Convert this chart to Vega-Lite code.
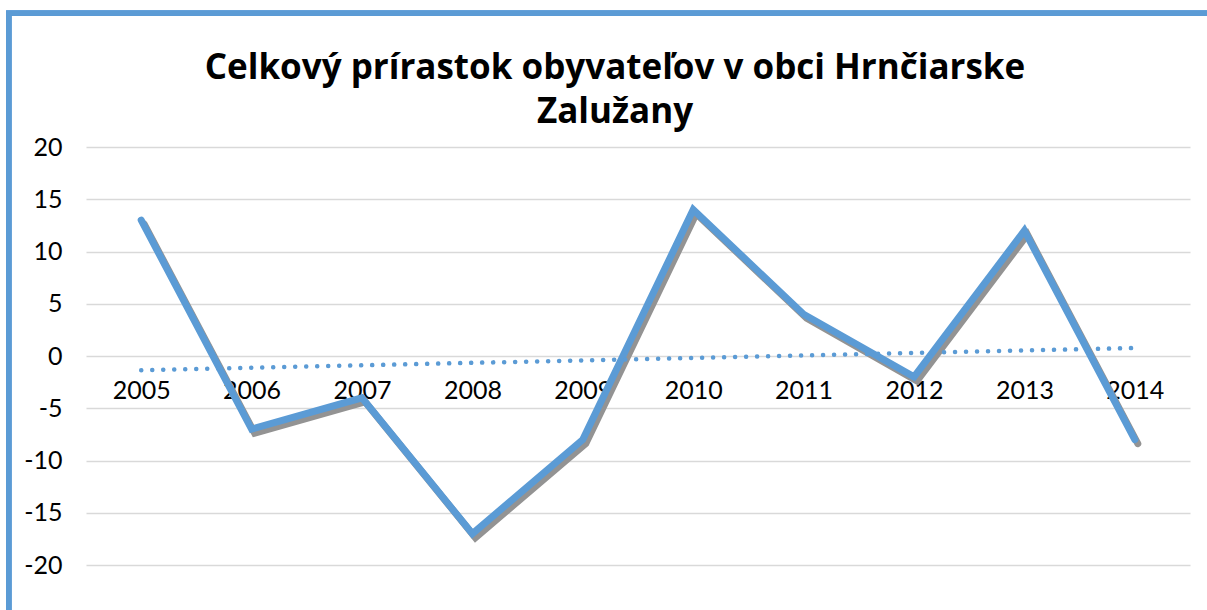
{
  "$schema": "https://vega.github.io/schema/vega-lite/v6.json",
  "autosize": {"type": "none"},
  "width": 1104,
  "height": 418,
  "padding": {"left": 86, "top": 147, "right": 17, "bottom": 45},
  "background": "white",
  "config": {
    "font": "Lato",
    "view": {"stroke": null}
  },
  "title": {
    "text": ["Celkový prírastok obyvateľov v obci Hrnčiarske", "Zalužany"],
    "fontSize": 35,
    "font": "Open Sans",
    "fontWeight": "bold",
    "color": "#000000",
    "anchor": "middle",
    "dx": -23,
    "offset": 0,
    "dy": 119,
    "lineHeight": 44
  },
  "data": {
    "values": [
      {"year": 2005, "value": 13},
      {"year": 2006, "value": -7},
      {"year": 2007, "value": -4},
      {"year": 2008, "value": -17},
      {"year": 2009, "value": -8},
      {"year": 2010, "value": 14},
      {"year": 2011, "value": 4},
      {"year": 2012, "value": -2},
      {"year": 2013, "value": 12},
      {"year": 2014, "value": -8}
    ]
  },
  "encoding": {
    "x": {
      "field": "year",
      "type": "quantitative",
      "scale": {"domain": [2004.5, 2014.5], "nice": false, "zero": false},
      "axis": {
        "title": null,
        "values": [2005, 2006, 2007, 2008, 2009, 2010, 2011, 2012, 2013, 2014],
        "format": "d",
        "grid": false,
        "domain": false,
        "ticks": false,
        "offset": -209,
        "labelPadding": 22,
        "labelFontSize": 25,
        "labelColor": "#000000",
        "labelFont": "Lato"
      }
    },
    "y": {
      "field": "value",
      "type": "quantitative",
      "scale": {"domain": [-20, 20], "nice": false},
      "axis": {
        "title": null,
        "values": [-20, -15, -10, -5, 0, 5, 10, 15, 20],
        "labelExpr": "replace(datum.label, '\u2212', '-')",
        "grid": true,
        "gridColor": "#D9D9D9",
        "gridWidth": 1.5,
        "domain": false,
        "ticks": false,
        "labelPadding": 24,
        "labelFontSize": 25,
        "labelColor": "#000000",
        "labelFont": "Lato"
      }
    }
  },
  "layer": [
    {
      "mark": {"type": "rect", "fill": null, "stroke": "#5B9BD5", "strokeWidth": 5},
      "encoding": {
        "x": {"datum": 2003.8},
        "x2": {"datum": 2016},
        "y": {"datum": 32.8},
        "y2": {"datum": -27}
      }
    },
    {
      "mark": {"type": "line", "color": "#939393", "strokeWidth": 7, "strokeCap": "round", "strokeJoin": "miter", "xOffset": 3, "yOffset": 4}
    },
    {
      "mark": {"type": "line", "color": "#5B9BD5", "strokeWidth": 7, "strokeCap": "round", "strokeJoin": "miter"}
    },
    {
      "transform": [{"regression": "value", "on": "year"}],
      "mark": {"type": "line", "color": "#5B9BD5", "strokeWidth": 4.5, "strokeCap": "round", "strokeDash": [0.1, 10.9]}
    }
  ]
}
